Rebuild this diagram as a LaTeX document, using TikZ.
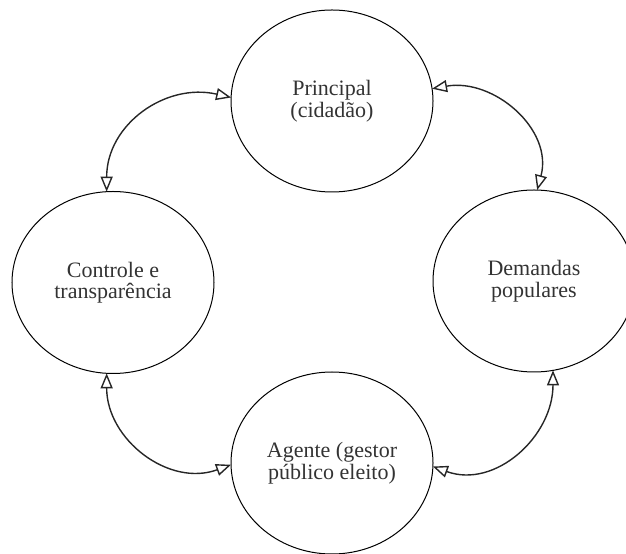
\documentclass[tikz,border=0pt]{standalone}
\usepackage{fontspec}
\setmainfont{Liberation Serif}
\usetikzlibrary{arrows.meta,shapes.geometric}
\begin{document}
\begin{tikzpicture}[x=1bp,y=1bp,
  stage/.style={ellipse, draw, line width=1bp, minimum width=202bp, minimum height=182bp,
    inner sep=0pt, outer sep=0pt, align=center, text=black!80,
    font=\fontsize{22bp}{21.5bp}\selectfont},
  link/.style={line width=1.4bp, black!85, {Triangle[open,length=15bp,width=12bp]}-{Triangle[open,length=15bp,width=12bp]}}]
\useasboundingbox (0,0) rectangle (626,554);
\clip (0,0) rectangle (626,554);
\node[stage] (top) at (332,453) {Principal\\(cidadão)};
\node[stage] (left) at (113,271.5) {Controle e\\transparência};
\node[stage] (right) at (534,273) {Demandas\\populares};
\node[stage] (bottom) at (332,91) {Agente (gestor\\público eleito)};
\draw[link] (top.178) to[out=167,in=90,looseness=1.1] (left.94);
\draw[link] (top.7) to[out=10,in=75,looseness=1.1] (right.88);
\draw[link] (left.266) to[out=270,in=200,looseness=1.1] (bottom.181);
\draw[link] (right.282) to[out=270,in=340,looseness=1.1] (bottom.358);
\end{tikzpicture}
\end{document}
